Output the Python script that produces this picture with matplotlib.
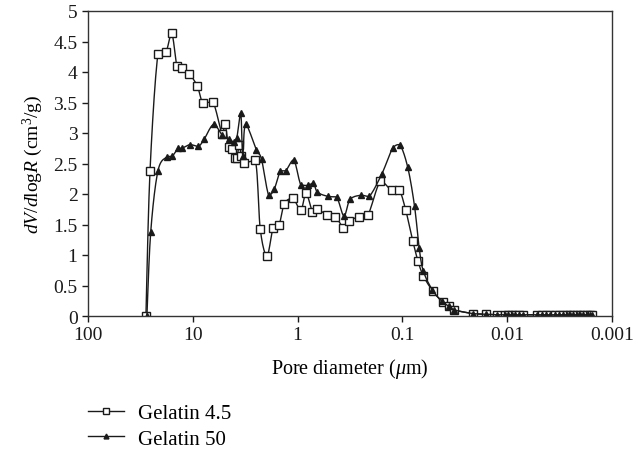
import numpy as np
import matplotlib
matplotlib.use('Agg')
import matplotlib.pyplot as plt
from matplotlib.ticker import FixedLocator, FixedFormatter

plt.rcParams['font.family'] = ['Liberation Serif', 'DejaVu Serif']
plt.rcParams['mathtext.fontset'] = 'custom'
plt.rcParams['mathtext.rm'] = 'Liberation Serif'
plt.rcParams['mathtext.it'] = 'Liberation Serif:italic'

# pore diameter (um) and dV/dlogR (cm3/g)
tail_d = [0.0126, 0.0105, 0.00976, 0.00906, 0.00843, 0.00766, 0.00702,
          0.00523, 0.00469, 0.00426, 0.0039, 0.0035, 0.0032, 0.00291,
          0.0027, 0.00252, 0.00234, 0.00217, 0.00202, 0.00188, 0.00174,
          0.00162, 0.00154]
tail_v = [0.02, 0.02, 0.02, 0.02, 0.02, 0.02, 0.02, 0.02, 0.02, 0.02,
          0.02, 0.02, 0.02, 0.02, 0.02, 0.02, 0.02, 0.02, 0.02, 0.02,
          0.02, 0.02, 0.02]

g45_d = [28.0, 25.6, 21.5, 18.1, 15.9, 14.2, 12.8, 10.8, 9.06, 7.99, 6.42,
         5.26, 4.93, 4.54, 4.23, 3.98, 3.79, 3.60, 3.45, 3.25, 2.53, 2.27,
         1.96, 1.71, 1.50, 1.34, 1.11, 0.934, 0.831, 0.721, 0.656, 0.522,
         0.437, 0.365, 0.323, 0.261, 0.214, 0.162, 0.127, 0.107, 0.0928,
         0.0796, 0.0710, 0.0632, 0.0514, 0.0414, 0.0360, 0.0320, 0.0213,
         0.0158] + tail_d
g45_v = [0.0, 2.38, 4.30, 4.32, 4.64, 4.10, 4.07, 3.97, 3.77, 3.49, 3.51,
         2.98, 3.15, 2.77, 2.73, 2.59, 2.59, 2.81, 2.62, 2.51, 2.55, 1.42,
         0.99, 1.45, 1.50, 1.84, 1.93, 1.73, 2.01, 1.71, 1.75, 1.66, 1.63,
         1.45, 1.55, 1.63, 1.65, 2.21, 2.06, 2.06, 1.73, 1.23, 0.90, 0.66,
         0.41, 0.23, 0.16, 0.10, 0.04, 0.03] + tail_v

g50_d = [27.4, 25.2, 21.5, 17.6, 15.7, 13.8, 12.7, 10.6, 8.86, 7.78, 6.33,
         5.21, 4.51, 4.05, 3.81, 3.49, 3.34, 3.13, 2.47, 2.21, 1.89, 1.67,
         1.46, 1.30, 1.09, 0.932, 0.801, 0.708, 0.646, 0.511, 0.424, 0.361,
         0.316, 0.248, 0.207, 0.157, 0.124, 0.106, 0.0890, 0.0766, 0.0691,
         0.0632, 0.0519, 0.0419, 0.0360, 0.0320, 0.0213, 0.0158] + tail_d
g50_v = [0.0, 1.38, 2.38, 2.61, 2.62, 2.75, 2.75, 2.81, 2.78, 2.90, 3.14,
         2.96, 2.90, 2.85, 2.91, 3.33, 2.63, 3.14, 2.72, 2.57, 1.98, 2.08,
         2.38, 2.38, 2.56, 2.15, 2.14, 2.18, 2.03, 1.96, 1.95, 1.64, 1.91,
         1.98, 1.96, 2.33, 2.75, 2.81, 2.44, 1.80, 1.11, 0.74, 0.43, 0.24,
         0.16, 0.10, 0.04, 0.03] + tail_v

x_ticks = [100, 10, 1, 0.1, 0.01, 0.001]
x_labels = ['100', '10', '1', '0.1', '0.01', '0.001']
y_ticks = [0, 0.5, 1, 1.5, 2, 2.5, 3, 3.5, 4, 4.5, 5]
y_labels = ['0', '0.5', '1', '1.5', '2', '2.5', '3', '3.5', '4', '4.5', '5']


def smooth(d, v, n=12):
    # bezier through the points in log-x, control points kept inside each
    # segment's y range so the curve never overshoots
    px = np.log10(np.asarray(d, float))
    py = np.asarray(v, float)
    xs, ys = [], []
    m = len(px)
    t = np.linspace(0, 1, n)[:, None]
    for i in range(m - 1):
        p0 = np.array([px[max(i - 1, 0)], py[max(i - 1, 0)]])
        p1 = np.array([px[i], py[i]])
        p2 = np.array([px[i + 1], py[i + 1]])
        p3 = np.array([px[min(i + 2, m - 1)], py[min(i + 2, m - 1)]])
        c1 = p1 + (p2 - p0) / 6
        c2 = p2 - (p3 - p1) / 6
        lo, hi = min(p1[1], p2[1]), max(p1[1], p2[1])
        c1[1] = np.clip(c1[1], lo, hi)
        c2[1] = np.clip(c2[1], lo, hi)
        b = ((1 - t) ** 3) * p1 + 3 * ((1 - t) ** 2) * t * c1 \
            + 3 * (1 - t) * t ** 2 * c2 + t ** 3 * p2
        xs.append(b[:, 0])
        ys.append(b[:, 1])
    return 10 ** np.concatenate(xs), np.concatenate(ys)


fig = plt.figure(figsize=(6.35, 4.52), dpi=100)
ax = fig.add_axes([88 / 635, 1 - 317 / 452, 524 / 635, 305 / 452])

sx, sy = smooth(g45_d, g45_v)
ax.plot(sx, sy, color='#1a1a1a', lw=1.0)
ax.plot(g45_d, g45_v, ls='none', marker='s', ms=6, mfc='white',
        mec='#1a1a1a', mew=1.0)
sx, sy = smooth(g50_d, g50_v)
ax.plot(sx, sy, color='#1a1a1a', lw=1.0)
ax.plot(g50_d, g50_v, ls='none', marker='^', ms=4, mfc='#1a1a1a',
        mec='#1a1a1a')

ax.set_xscale('log')
ax.set_xlim(100, 0.001)
ax.set_ylim(0, 5)
ax.xaxis.set_major_locator(FixedLocator(x_ticks))
ax.xaxis.set_major_formatter(FixedFormatter(x_labels))
ax.xaxis.set_minor_locator(FixedLocator([]))
ax.set_yticks(y_ticks)
ax.set_yticklabels(y_labels)
ax.tick_params(direction='out', length=4, width=1, labelsize=14, colors='#1a1a1a')
for s in ax.spines.values():
    s.set_linewidth(1.0)
    s.set_color('#333333')

ax.set_xlabel(r'Pore diameter ($\mu$m)', fontsize=14.5, labelpad=9)
ax.set_ylabel(r'$dV/d\mathrm{log}R$ (cm$^3$/g)', fontsize=14, labelpad=6)

h1 = plt.Line2D([], [], color='#1a1a1a', lw=1.0, marker='s', ms=5,
                mfc='white', mec='#1a1a1a')
h2 = plt.Line2D([], [], color='#1a1a1a', lw=1.0, marker='^', ms=3.5,
                mfc='#1a1a1a', mec='#1a1a1a')
fig.legend([h1, h2], ['Gelatin 4.5', 'Gelatin 50'], loc='upper left',
           bbox_to_anchor=(80 / 635, 1 - 396 / 452), frameon=False,
           fontsize=15, handlelength=1.7, handletextpad=0.7,
           labelspacing=0.3, borderaxespad=0)

fig.savefig('out.png', dpi=100)
